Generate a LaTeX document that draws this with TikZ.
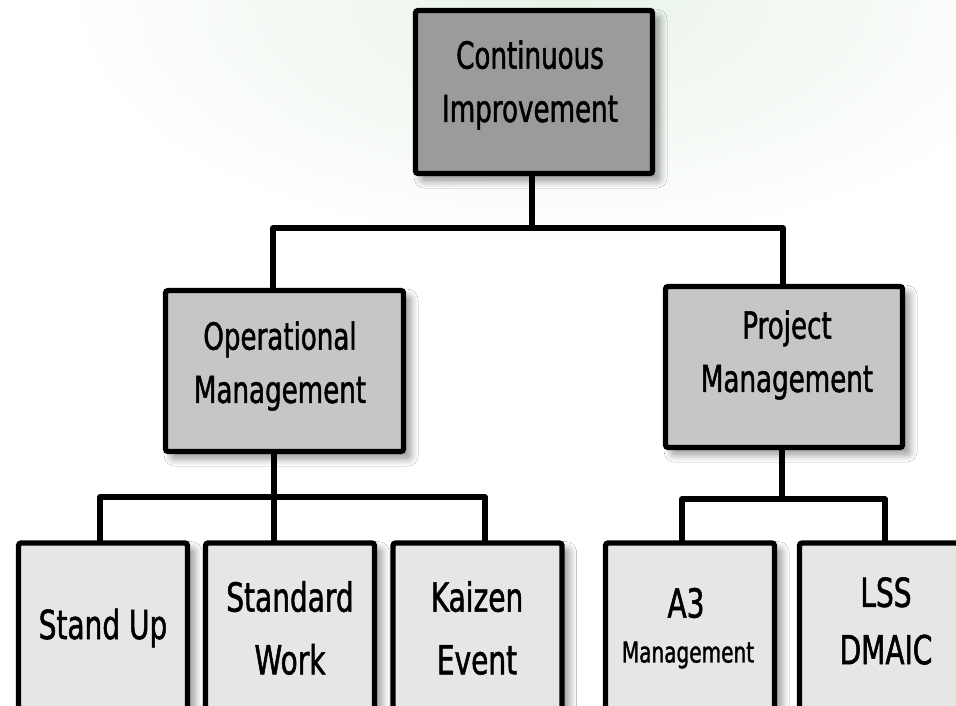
\documentclass[tikz,border=0pt]{standalone}
\usepackage{fontspec}
\setmainfont{DejaVu Sans}[FakeStretch=0.7, FakeBold=1.3]
\usetikzlibrary{shadows.blur}
\definecolor{lvA}{HTML}{9B9B9B}
\definecolor{lvB}{HTML}{C6C6C6}
\definecolor{lvC}{HTML}{E6E6E6}
\definecolor{glow}{HTML}{E8F3E8}
\tikzset{
  sz/.style 2 args={minimum width=#1*0.75pt, minimum height=#2*0.75pt},
  boxbase/.style={draw=black, line width=4pt, rounded corners=2pt, inner sep=0pt,
    blur shadow={shadow xshift=5pt, shadow yshift=-5pt, shadow blur steps=12, shadow opacity=45, shadow blur radius=6pt}},
  boxA/.style={boxbase, fill=lvA},
  boxB/.style={boxbase, fill=lvB},
  boxC/.style={boxbase, fill=lvC},
  lbl/.style={align=center, inner sep=0pt, text=black},
  big/.style={lbl, font=\fontsize{28}{40}\selectfont},
  low/.style={lbl, font=\fontsize{30}{47}\selectfont},
  conn/.style={draw=black, line width=3.8pt, line join=round, line cap=round}
}
\begin{document}
\begin{tikzpicture}[x=0.75pt,y=-0.75pt]
\useasboundingbox (0,0) rectangle (956,706);
\clip (0,0) rectangle (956,706);
\fill[white] (0,0) rectangle (956,706);
\shade[inner color=glow, outer color=white] (560,0) ellipse [x radius=500, y radius=250];

% junction points
\coordinate (j0) at (532,228);
\coordinate (j1) at (273,228);
\coordinate (j2) at (783,228);
\coordinate (k0) at (274,497);
\coordinate (k1) at (100,497);
\coordinate (k3) at (485,497);
\coordinate (m0) at (782,499);
\coordinate (m1) at (682,499);
\coordinate (m2) at (885,499);

% boxes
\node[boxA, sz={237}{163}] (ci) at (534,92) {};
\node[boxB, sz={238}{161}] (om) at (284.5,371) {};
\node[boxB, sz={237}{161}] (pm) at (784,367) {};
\node[boxC, sz={169}{170}] (su) at (103,628) {};
\node[boxC, sz={169}{170}] (sw) at (290,628) {};
\node[boxC, sz={169}{170}] (ke) at (477.5,628) {};
\node[boxC, sz={169}{170}] (a3) at (690,628) {};
\node[boxC, sz={169}{170}] (ls) at (884,628) {};

\draw[conn] (ci.south -| j0) -- (j0);
\draw[conn] (j1 |- om.north) -- (j1) -- (j2) -- (j2 |- pm.north);
\draw[conn] (k0 |- om.south) -- (k0);
\draw[conn] (k1 |- su.north) -- (k1) -- (k3) -- (k3 |- ke.north);
\draw[conn] (k0) -- (k0 |- sw.north);
\draw[conn] (m0 |- pm.south) -- (m0);
\draw[conn] (m1 |- a3.north) -- (m1) -- (m2) -- (m2 |- ls.north);

% labels
\node[big] (cit) at (530,85) {Continuous\\Improvement};
\node[big] (omt) at (280,366) {Operational\\Management};
\node[big] (pmt) at (787,355) {Project\\Management};
\node[low] (sut) at (103,628) {Stand Up};
\node[low] (swt) at (290,628) {Standard\\Work};
\node[low] (ket) at (477,628) {Kaizen\\Event};
\node[lbl, font=\fontsize{30}{30}\selectfont] (a3t) at (686,603) {A3};
\node[lbl, font=\fontsize{21.5}{21.5}\selectfont] (a3m) at (688,655) {Management};
\node[lbl, font=\fontsize{30}{43}\selectfont] (lst) at (886,621) {LSS\\DMAIC};
\end{tikzpicture}
\end{document}
